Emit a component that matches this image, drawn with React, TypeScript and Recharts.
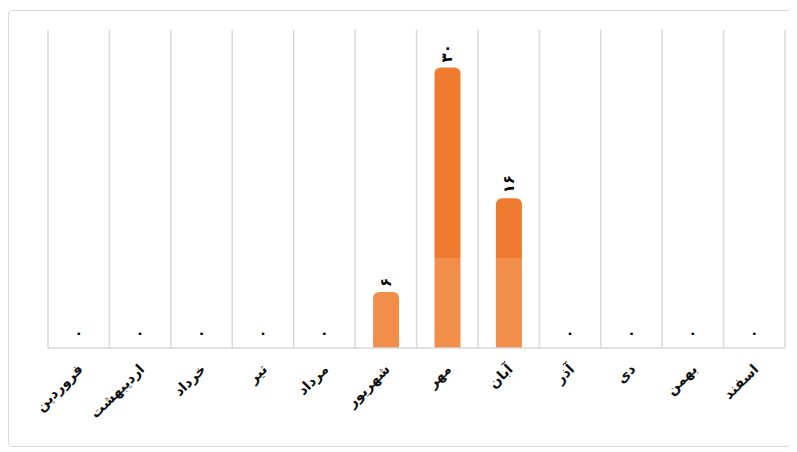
import { ComposedChart, Bar, Line, XAxis, YAxis, CartesianGrid, LabelList } from 'recharts';

const months = ['فروردین', 'اردیبهشت', 'خرداد', 'تیر', 'مرداد', 'شهریور', 'مهر', 'آبان', 'آذر', 'دی', 'بهمن', 'اسفند'];
const counts = [0, 0, 0, 0, 0, 6, 30, 16, 0, 0, 0, 0];
const countLabels = ['۰', '۰', '۰', '۰', '۰', '۶', '۳۰', '۱۶', '۰', '۰', '۰', '۰'];

const data = months.map((month, i) => ({ month, count: counts[i], label: countLabels[i] }));

const FONT = '"DejaVu Sans", sans-serif';

function MonthTick({ x, y, payload }: any) {
  const ax = x + 5;
  const ay = y + 14;
  return (
    <text x={ax} y={ay} transform={`rotate(-45 ${ax} ${ay})`} textAnchor="end" fontSize={14} fontWeight="bold" letterSpacing={1.5} fill="#111" fontFamily={FONT}>
      {payload.value}
    </text>
  );
}

// labels ride on an invisible line so zero values get one too
function ValueLabel({ x, y, value }: any) {
  if (value === '۰') {
    return (
      <text x={x} y={y - 10} textAnchor="middle" fontSize={14} fontWeight="bold" fill="#000" fontFamily={FONT}>
        {value}
      </text>
    );
  }
  const ly = y - 5;
  return (
    <text x={x} y={ly} transform={`rotate(-90 ${x} ${ly})`} textAnchor="start" dominantBaseline="central" fontSize={15} fontWeight="bold" fill="#000" fontFamily={FONT}>
      {value}
    </text>
  );
}

export default function App() {
  return (
    <div style={{ width: 781, height: 435, border: '1px solid #d9d9d9', borderRadius: 4, marginTop: 2, background: '#fff', fontFamily: FONT }}>
      <ComposedChart width={781} height={435} data={data} margin={{ top: 19, right: 5, left: 39, bottom: 0 }}>
        <defs>
          <linearGradient id="barFill" gradientUnits="userSpaceOnUse" x1={0} y1={0} x2={0} y2={435}>
            <stop offset="0" stopColor="#EE7B2F" />
            <stop offset="0.567" stopColor="#EE7B2F" />
            <stop offset="0.568" stopColor="#F08E4A" />
            <stop offset="1" stopColor="#F08E4A" />
          </linearGradient>
        </defs>
        <CartesianGrid
          horizontal={false}
          stroke="#d9d9d9"
          strokeWidth={1.5}
          verticalCoordinatesGenerator={({ offset }: any) =>
            Array.from({ length: months.length + 1 }, (_, i) => offset.left + (i * offset.width) / months.length)
          }
        />
        <XAxis dataKey="month" interval={0} tickLine={false} axisLine={{ stroke: '#d9d9d9', strokeWidth: 1.5 }} height={98} tick={<MonthTick />} />
        <YAxis hide domain={[0, 34]} />
        <Bar dataKey="count" fill="url(#barFill)" barSize={26} radius={[6, 6, 0, 0]} isAnimationActive={false} />
        <Line dataKey="count" stroke="none" dot={false} activeDot={false} legendType="none" isAnimationActive={false}>
          <LabelList dataKey="label" content={<ValueLabel />} />
        </Line>
      </ComposedChart>
    </div>
  );
}
